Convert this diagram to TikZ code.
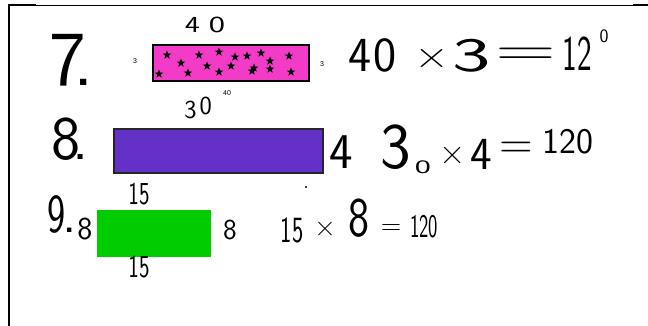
\documentclass[tikz,border=0pt]{standalone}
\usepackage{fontspec}
\usepackage{graphicx}
\setmainfont{Liberation Sans}
\usetikzlibrary{shapes.geometric}
\definecolor{pinkfill}{RGB}{242,60,200}
\definecolor{purplefill}{RGB}{99,49,199}
\definecolor{greenfill}{RGB}{0,204,0}
\newcommand\hwf[1]{\sffamily\fontsize{#1}{#1}\selectfont}
\newcommand\sx[2]{\scalebox{#1}[1]{#2}}
\begin{document}
\begin{tikzpicture}[x=1pt,y=-1pt,
  hand/.style={inner sep=0pt, outer sep=0pt, text=black},
  lbl/.style={inner sep=0pt, font=\fontsize{7}{7}\selectfont},
  rectbox/.style={inner sep=0pt, outer sep=0pt},
  starmark/.style={star, star points=5, star point ratio=2.4, fill=black, inner sep=0pt, minimum size=9pt}]
\useasboundingbox (0,0) rectangle (648,326);
% frame
\draw[line width=2pt] (9,326) -- (9,5.5) -- (36,5.5);
\draw[line width=1pt] (36,5.5) -- (633,5.5);
\draw[line width=2pt] (633,5.5) -- (648,5.5);

% ---- row 7 ----
\node[hand, font=\hwf{78}] (n7) at (72,60) {7\kern-0.16em.};
\node[hand, font=\hwf{23}] (top40) at (205,25) {\sx{1.4}{4}\hspace{9pt}\sx{1.5}{0}};
\node[lbl] (l3a) at (135,61) {3};
\node[rectbox, draw=black, line width=1.5pt, fill=pinkfill, minimum width=156pt, minimum height=36pt] (r7) at (231,63) {};
\foreach \i/\p in {1/{167,55},2/{181,63},3/{199,55},4/{219,52},5/{235,57},6/{247,56},7/{261,53},8/{270,61},9/{289,56},10/{159,74},11/{188,73},12/{207,66},13/{219,72},14/{231,66},15/{252,71},16/{270,69},17/{291,72},18/{254,68}}
  \node[starmark] (s\i) at (\p) {};
\node[lbl] (l3b) at (322,64) {3};
\node[lbl] (l40) at (227,93) {40};
\node[hand, font=\hwf{49}] (e7a) at (373,55) {4\hspace{2pt}0};
\node[hand, font=\hwf{40}] (e7b) at (432,59) {\sx{1.2}{×}};
\node[hand, font=\hwf{48}] (e7c) at (472,56) {\sx{1.7}{3}};
\node[hand, font=\hwf{49}] (e7d) at (526,57) {\sx{1.7}{=}};
\node[hand, font=\hwf{50}] (e7e) at (577,54) {\sx{0.62}{12}};
\node[hand, font=\hwf{19}] (e7f) at (604,36) {0};

% ---- row 8 ----
\node[hand, font=\hwf{62}] (n8) at (70,139) {8\kern-0.12em.};
\node[hand, font=\hwf{26}] (top30) at (198,108) {3\hspace{3pt}\raisebox{4pt}{0}};
\node[rectbox, draw=black!85, line width=1.2pt, fill=purplefill, minimum width=209pt, minimum height=44pt] (r8) at (218.5,151) {};
\node[hand, font=\hwf{50}] (side4) at (341,152) {4};
\node[hand, font=\hwf{65}] (e8a) at (396,147) {3};
\node[hand, font=\hwf{19}] (e8b) at (423,167) {\sx{1.8}{0}};
\node[hand, font=\hwf{36}] (e8c) at (453,156) {×};
\node[hand, font=\hwf{46}] (e8d) at (481,154) {4};
\node[hand, font=\hwf{46}] (e8e) at (516,150) {=};
\node[hand, font=\hwf{36}] (e8f) at (568,142) {120};
\fill (306,187) circle (1.1pt);

% ---- row 9 ----
\node[hand, font=\hwf{55}] (n9) at (62,214) {\sx{0.7}{9}\kern-0.05em.};
\node[hand, font=\hwf{32}] (l8a) at (85,229) {8};
\node[hand, font=\hwf{32}] (top15) at (139,194) {\sx{0.7}{15}};
\node[rectbox, fill=greenfill, minimum width=114pt, minimum height=47pt] (r9) at (154,233.5) {};
\node[hand, font=\hwf{32}] (bot15) at (139,267) {\sx{0.7}{15}};
\node[hand, font=\hwf{29}] (r8a) at (230,230) {8};
\node[hand, font=\hwf{37}] (e9a) at (292,230) {\sx{0.65}{15}};
\node[hand, font=\hwf{30}] (e9b) at (325,229) {×};
\node[hand, font=\hwf{56}] (e9c) at (359,218) {\sx{0.8}{8}};
\node[hand, font=\hwf{28}] (e9d) at (391,230) {=};
\node[hand, font=\hwf{33}] (e9e) at (424,227) {\sx{0.6}{120}};
\end{tikzpicture}
\end{document}
